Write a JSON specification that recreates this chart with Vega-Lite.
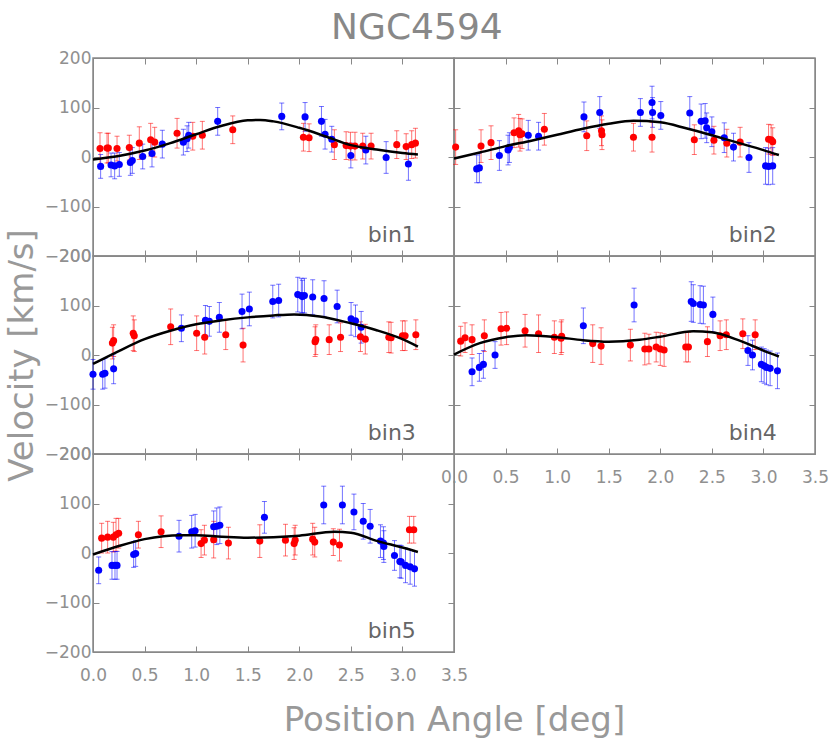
{
"$schema":"https://vega.github.io/schema/vega-lite/v6.json",
"background":"white",
"padding":{"left":4,"top":10,"right":2,"bottom":5},
"title":{"text":"NGC4594","fontSize":36,"color":"#888","font":"DejaVu Sans","fontWeight":"normal","anchor":"middle","offset":1},
"config":{"view":{"stroke":"#888","strokeWidth":1.5},
 "axis":{"domainColor":"#888","tickColor":"#888","labelColor":"#909090","labelFont":"DejaVu Sans","labelFontSize":17,"grid":false,"tickSize":-6,"labelFlush":false,"labelOverlap":false,"titleColor":"#999","titleFont":"DejaVu Sans","titleFontWeight":"normal","titleFontSize":34},
 "axisBottom":{"labelPadding":21},
 "axisLeft":{"labelPadding":8}},
"datasets":{
"pts":[
{"bin":"bin1","side":"red","x":0.068,"v":17,"e":32},{"bin":"bin1","side":"red","x":0.136,"v":18,"e":30},{"bin":"bin1","side":"red","x":0.149,"v":18,"e":30},{"bin":"bin1","side":"red","x":0.233,"v":17,"e":25},{"bin":"bin1","side":"red","x":0.352,"v":19,"e":25},{"bin":"bin1","side":"red","x":0.449,"v":28,"e":33},{"bin":"bin1","side":"red","x":0.559,"v":35,"e":33},{"bin":"bin1","side":"red","x":0.598,"v":30,"e":30},{"bin":"bin1","side":"red","x":0.815,"v":48,"e":30},{"bin":"bin1","side":"red","x":0.967,"v":42,"e":28},{"bin":"bin1","side":"red","x":1.06,"v":44,"e":28},{"bin":"bin1","side":"red","x":1.355,"v":55,"e":28},{"bin":"bin1","side":"red","x":2.04,"v":40,"e":28},{"bin":"bin1","side":"red","x":2.095,"v":39,"e":28},{"bin":"bin1","side":"red","x":2.34,"v":25,"e":30},{"bin":"bin1","side":"red","x":2.454,"v":23,"e":28},{"bin":"bin1","side":"red","x":2.496,"v":22,"e":28},{"bin":"bin1","side":"red","x":2.54,"v":22,"e":28},{"bin":"bin1","side":"red","x":2.615,"v":22,"e":26},{"bin":"bin1","side":"red","x":2.696,"v":22,"e":26},{"bin":"bin1","side":"red","x":2.945,"v":25,"e":28},{"bin":"bin1","side":"red","x":3.036,"v":21,"e":26},{"bin":"bin1","side":"red","x":3.09,"v":25,"e":28},{"bin":"bin1","side":"red","x":3.126,"v":28,"e":30},
{"bin":"bin1","side":"blue","x":0.074,"v":-19,"e":24},{"bin":"bin1","side":"blue","x":0.175,"v":-16,"e":24},{"bin":"bin1","side":"blue","x":0.21,"v":-18,"e":26},{"bin":"bin1","side":"blue","x":0.255,"v":-15,"e":24},{"bin":"bin1","side":"blue","x":0.362,"v":-11,"e":26},{"bin":"bin1","side":"blue","x":0.381,"v":-7,"e":26},{"bin":"bin1","side":"blue","x":0.482,"v":1,"e":25},{"bin":"bin1","side":"blue","x":0.572,"v":7,"e":27},{"bin":"bin1","side":"blue","x":0.672,"v":26,"e":28},{"bin":"bin1","side":"blue","x":0.876,"v":30,"e":26},{"bin":"bin1","side":"blue","x":0.912,"v":37,"e":26},{"bin":"bin1","side":"blue","x":0.928,"v":44,"e":26},{"bin":"bin1","side":"blue","x":1.209,"v":72,"e":28},{"bin":"bin1","side":"blue","x":1.83,"v":82,"e":27},{"bin":"bin1","side":"blue","x":2.056,"v":81,"e":29},{"bin":"bin1","side":"blue","x":2.215,"v":72,"e":30},{"bin":"bin1","side":"blue","x":2.25,"v":46,"e":30},{"bin":"bin1","side":"blue","x":2.315,"v":36,"e":26},{"bin":"bin1","side":"blue","x":2.5,"v":3,"e":25},{"bin":"bin1","side":"blue","x":2.645,"v":14,"e":28},{"bin":"bin1","side":"blue","x":2.842,"v":-1,"e":32},{"bin":"bin1","side":"blue","x":3.058,"v":-14,"e":33},
{"bin":"bin2","side":"red","x":0.016,"v":20,"e":35},{"bin":"bin2","side":"red","x":0.262,"v":22,"e":33},{"bin":"bin2","side":"red","x":0.359,"v":29,"e":34},{"bin":"bin2","side":"red","x":0.582,"v":49,"e":30},{"bin":"bin2","side":"red","x":0.627,"v":53,"e":33},{"bin":"bin2","side":"red","x":0.64,"v":45,"e":33},{"bin":"bin2","side":"red","x":0.66,"v":47,"e":30},{"bin":"bin2","side":"red","x":0.876,"v":56,"e":32},{"bin":"bin2","side":"red","x":1.287,"v":43,"e":30},{"bin":"bin2","side":"red","x":1.43,"v":53,"e":30},{"bin":"bin2","side":"red","x":1.435,"v":45,"e":30},{"bin":"bin2","side":"red","x":1.74,"v":40,"e":28},{"bin":"bin2","side":"red","x":1.92,"v":40,"e":30},{"bin":"bin2","side":"red","x":2.33,"v":35,"e":30},{"bin":"bin2","side":"red","x":2.52,"v":34,"e":28},{"bin":"bin2","side":"red","x":2.645,"v":28,"e":28},{"bin":"bin2","side":"red","x":2.774,"v":30,"e":30},{"bin":"bin2","side":"red","x":3.05,"v":36,"e":30},{"bin":"bin2","side":"red","x":3.075,"v":35,"e":30},{"bin":"bin2","side":"red","x":3.09,"v":31,"e":28},
{"bin":"bin2","side":"blue","x":0.22,"v":-24,"e":28},{"bin":"bin2","side":"blue","x":0.246,"v":-22,"e":30},{"bin":"bin2","side":"blue","x":0.44,"v":3,"e":30},{"bin":"bin2","side":"blue","x":0.524,"v":14,"e":30},{"bin":"bin2","side":"blue","x":0.537,"v":19,"e":30},{"bin":"bin2","side":"blue","x":0.72,"v":44,"e":30},{"bin":"bin2","side":"blue","x":0.82,"v":42,"e":28},{"bin":"bin2","side":"blue","x":1.26,"v":81,"e":30},{"bin":"bin2","side":"blue","x":1.413,"v":90,"e":32},{"bin":"bin2","side":"blue","x":1.807,"v":90,"e":28},{"bin":"bin2","side":"blue","x":1.92,"v":110,"e":33},{"bin":"bin2","side":"blue","x":1.925,"v":90,"e":30},{"bin":"bin2","side":"blue","x":2.005,"v":84,"e":28},{"bin":"bin2","side":"blue","x":2.286,"v":89,"e":33},{"bin":"bin2","side":"blue","x":2.396,"v":72,"e":35},{"bin":"bin2","side":"blue","x":2.435,"v":73,"e":35},{"bin":"bin2","side":"blue","x":2.45,"v":59,"e":30},{"bin":"bin2","side":"blue","x":2.5,"v":51,"e":30},{"bin":"bin2","side":"blue","x":2.62,"v":39,"e":30},{"bin":"bin2","side":"blue","x":2.71,"v":20,"e":28},{"bin":"bin2","side":"blue","x":2.86,"v":-1,"e":30},{"bin":"bin2","side":"blue","x":3.02,"v":-18,"e":37},{"bin":"bin2","side":"blue","x":3.05,"v":-19,"e":37},{"bin":"bin2","side":"blue","x":3.09,"v":-18,"e":37},
{"bin":"bin3","side":"red","x":0.188,"v":24,"e":32},{"bin":"bin3","side":"red","x":0.2,"v":29,"e":32},{"bin":"bin3","side":"red","x":0.39,"v":44,"e":35},{"bin":"bin3","side":"red","x":0.4,"v":39,"e":32},{"bin":"bin3","side":"red","x":0.753,"v":57,"e":36},{"bin":"bin3","side":"red","x":1.005,"v":44,"e":35},{"bin":"bin3","side":"red","x":1.083,"v":36,"e":34},{"bin":"bin3","side":"red","x":1.287,"v":41,"e":30},{"bin":"bin3","side":"red","x":1.455,"v":20,"e":34},{"bin":"bin3","side":"red","x":2.153,"v":27,"e":30},{"bin":"bin3","side":"red","x":2.16,"v":31,"e":30},{"bin":"bin3","side":"red","x":2.29,"v":31,"e":30},{"bin":"bin3","side":"red","x":2.4,"v":36,"e":29},{"bin":"bin3","side":"red","x":2.593,"v":37,"e":30},{"bin":"bin3","side":"red","x":2.64,"v":32,"e":30},{"bin":"bin3","side":"red","x":2.868,"v":36,"e":31},{"bin":"bin3","side":"red","x":2.89,"v":35,"e":31},{"bin":"bin3","side":"red","x":3.0,"v":39,"e":30},{"bin":"bin3","side":"red","x":3.026,"v":39,"e":30},{"bin":"bin3","side":"red","x":3.13,"v":41,"e":30},
{"bin":"bin3","side":"blue","x":0.0,"v":-39,"e":30},{"bin":"bin3","side":"blue","x":0.094,"v":-39,"e":30},{"bin":"bin3","side":"blue","x":0.116,"v":-37,"e":30},{"bin":"bin3","side":"blue","x":0.2,"v":-28,"e":30},{"bin":"bin3","side":"blue","x":0.857,"v":54,"e":27},{"bin":"bin3","side":"blue","x":1.09,"v":70,"e":30},{"bin":"bin3","side":"blue","x":1.128,"v":68,"e":30},{"bin":"bin3","side":"blue","x":1.225,"v":76,"e":30},{"bin":"bin3","side":"blue","x":1.445,"v":88,"e":35},{"bin":"bin3","side":"blue","x":1.516,"v":93,"e":34},{"bin":"bin3","side":"blue","x":1.743,"v":108,"e":33},{"bin":"bin3","side":"blue","x":1.8,"v":110,"e":33},{"bin":"bin3","side":"blue","x":1.985,"v":122,"e":35},{"bin":"bin3","side":"blue","x":2.02,"v":120,"e":35},{"bin":"bin3","side":"blue","x":2.03,"v":118,"e":33},{"bin":"bin3","side":"blue","x":2.05,"v":120,"e":35},{"bin":"bin3","side":"blue","x":2.13,"v":117,"e":35},{"bin":"bin3","side":"blue","x":2.24,"v":114,"e":36},{"bin":"bin3","side":"blue","x":2.367,"v":98,"e":33},{"bin":"bin3","side":"blue","x":2.502,"v":73,"e":33},{"bin":"bin3","side":"blue","x":2.545,"v":69,"e":32},{"bin":"bin3","side":"blue","x":2.6,"v":56,"e":32},
{"bin":"bin4","side":"red","x":0.065,"v":28,"e":30},{"bin":"bin4","side":"red","x":0.107,"v":35,"e":30},{"bin":"bin4","side":"red","x":0.175,"v":31,"e":30},{"bin":"bin4","side":"red","x":0.294,"v":39,"e":32},{"bin":"bin4","side":"red","x":0.456,"v":53,"e":33},{"bin":"bin4","side":"red","x":0.51,"v":54,"e":33},{"bin":"bin4","side":"red","x":0.689,"v":49,"e":33},{"bin":"bin4","side":"red","x":0.82,"v":43,"e":38},{"bin":"bin4","side":"red","x":0.973,"v":36,"e":33},{"bin":"bin4","side":"red","x":1.038,"v":34,"e":33},{"bin":"bin4","side":"red","x":1.044,"v":38,"e":33},{"bin":"bin4","side":"red","x":1.345,"v":23,"e":38},{"bin":"bin4","side":"red","x":1.426,"v":18,"e":37},{"bin":"bin4","side":"red","x":1.71,"v":20,"e":32},{"bin":"bin4","side":"red","x":1.85,"v":12,"e":32},{"bin":"bin4","side":"red","x":1.89,"v":12,"e":30},{"bin":"bin4","side":"red","x":1.96,"v":16,"e":30},{"bin":"bin4","side":"red","x":2.0,"v":12,"e":33},{"bin":"bin4","side":"red","x":2.037,"v":10,"e":33},{"bin":"bin4","side":"red","x":2.247,"v":16,"e":30},{"bin":"bin4","side":"red","x":2.273,"v":16,"e":30},{"bin":"bin4","side":"red","x":2.457,"v":27,"e":30},{"bin":"bin4","side":"red","x":2.58,"v":39,"e":30},{"bin":"bin4","side":"red","x":2.64,"v":41,"e":30},{"bin":"bin4","side":"red","x":2.8,"v":43,"e":30},{"bin":"bin4","side":"red","x":2.92,"v":41,"e":30},
{"bin":"bin4","side":"blue","x":0.175,"v":-34,"e":28},{"bin":"bin4","side":"blue","x":0.246,"v":-25,"e":28},{"bin":"bin4","side":"blue","x":0.285,"v":-19,"e":28},{"bin":"bin4","side":"blue","x":0.398,"v":0,"e":27},{"bin":"bin4","side":"blue","x":1.254,"v":59,"e":36},{"bin":"bin4","side":"blue","x":1.746,"v":101,"e":34},{"bin":"bin4","side":"blue","x":2.3,"v":108,"e":40},{"bin":"bin4","side":"blue","x":2.32,"v":104,"e":38},{"bin":"bin4","side":"blue","x":2.386,"v":102,"e":38},{"bin":"bin4","side":"blue","x":2.418,"v":101,"e":38},{"bin":"bin4","side":"blue","x":2.51,"v":82,"e":35},{"bin":"bin4","side":"blue","x":2.85,"v":9,"e":30},{"bin":"bin4","side":"blue","x":2.894,"v":0,"e":30},{"bin":"bin4","side":"blue","x":2.98,"v":-19,"e":35},{"bin":"bin4","side":"blue","x":3.007,"v":-22,"e":35},{"bin":"bin4","side":"blue","x":3.03,"v":-25,"e":35},{"bin":"bin4","side":"blue","x":3.065,"v":-27,"e":35},{"bin":"bin4","side":"blue","x":3.136,"v":-32,"e":36},
{"bin":"bin5","side":"red","x":0.084,"v":30,"e":30},{"bin":"bin5","side":"red","x":0.142,"v":32,"e":32},{"bin":"bin5","side":"red","x":0.197,"v":32,"e":30},{"bin":"bin5","side":"red","x":0.223,"v":37,"e":33},{"bin":"bin5","side":"red","x":0.249,"v":40,"e":30},{"bin":"bin5","side":"red","x":0.44,"v":37,"e":27},{"bin":"bin5","side":"red","x":0.66,"v":43,"e":32},{"bin":"bin5","side":"red","x":1.048,"v":19,"e":28},{"bin":"bin5","side":"red","x":1.08,"v":26,"e":30},{"bin":"bin5","side":"red","x":1.17,"v":27,"e":37},{"bin":"bin5","side":"red","x":1.313,"v":20,"e":32},{"bin":"bin5","side":"red","x":1.617,"v":24,"e":33},{"bin":"bin5","side":"red","x":1.866,"v":26,"e":32},{"bin":"bin5","side":"red","x":1.95,"v":19,"e":32},{"bin":"bin5","side":"red","x":1.96,"v":26,"e":30},{"bin":"bin5","side":"red","x":2.13,"v":28,"e":32},{"bin":"bin5","side":"red","x":2.15,"v":22,"e":30},{"bin":"bin5","side":"red","x":2.33,"v":22,"e":27},{"bin":"bin5","side":"red","x":2.39,"v":16,"e":32},{"bin":"bin5","side":"red","x":3.068,"v":47,"e":27},{"bin":"bin5","side":"red","x":3.11,"v":47,"e":27},
{"bin":"bin5","side":"blue","x":0.055,"v":-35,"e":27},{"bin":"bin5","side":"blue","x":0.184,"v":-25,"e":28},{"bin":"bin5","side":"blue","x":0.213,"v":-25,"e":28},{"bin":"bin5","side":"blue","x":0.233,"v":-25,"e":28},{"bin":"bin5","side":"blue","x":0.394,"v":-3,"e":26},{"bin":"bin5","side":"blue","x":0.414,"v":-1,"e":26},{"bin":"bin5","side":"blue","x":0.834,"v":34,"e":32},{"bin":"bin5","side":"blue","x":0.957,"v":43,"e":33},{"bin":"bin5","side":"blue","x":0.99,"v":45,"e":33},{"bin":"bin5","side":"blue","x":1.17,"v":53,"e":32},{"bin":"bin5","side":"blue","x":1.2,"v":54,"e":37},{"bin":"bin5","side":"blue","x":1.23,"v":56,"e":37},{"bin":"bin5","side":"blue","x":1.662,"v":72,"e":32},{"bin":"bin5","side":"blue","x":2.237,"v":97,"e":38},{"bin":"bin5","side":"blue","x":2.418,"v":97,"e":38},{"bin":"bin5","side":"blue","x":2.53,"v":83,"e":36},{"bin":"bin5","side":"blue","x":2.62,"v":64,"e":36},{"bin":"bin5","side":"blue","x":2.687,"v":54,"e":34},{"bin":"bin5","side":"blue","x":2.787,"v":24,"e":33},{"bin":"bin5","side":"blue","x":2.816,"v":20,"e":33},{"bin":"bin5","side":"blue","x":2.82,"v":13,"e":32},{"bin":"bin5","side":"blue","x":2.923,"v":-5,"e":30},{"bin":"bin5","side":"blue","x":2.975,"v":-17,"e":33},{"bin":"bin5","side":"blue","x":2.988,"v":-18,"e":33},{"bin":"bin5","side":"blue","x":3.03,"v":-25,"e":35},{"bin":"bin5","side":"blue","x":3.075,"v":-28,"e":35},{"bin":"bin5","side":"blue","x":3.117,"v":-32,"e":35}
],
"curve":[
{"bin":"bin1","x":0,"v":-5},{"bin":"bin1","x":0.25,"v":2},{"bin":"bin1","x":0.5,"v":13},{"bin":"bin1","x":0.75,"v":28},{"bin":"bin1","x":1.0,"v":46},{"bin":"bin1","x":1.25,"v":63},{"bin":"bin1","x":1.5,"v":74},{"bin":"bin1","x":1.62,"v":75},{"bin":"bin1","x":1.75,"v":72},{"bin":"bin1","x":2.0,"v":59},{"bin":"bin1","x":2.25,"v":42},{"bin":"bin1","x":2.5,"v":24},{"bin":"bin1","x":2.75,"v":15},{"bin":"bin1","x":3.0,"v":8},{"bin":"bin1","x":3.15,"v":5},
{"bin":"bin2","x":0,"v":-3},{"bin":"bin2","x":0.25,"v":9},{"bin":"bin2","x":0.5,"v":22},{"bin":"bin2","x":0.75,"v":33},{"bin":"bin2","x":1.0,"v":45},{"bin":"bin2","x":1.25,"v":57},{"bin":"bin2","x":1.5,"v":67},{"bin":"bin2","x":1.74,"v":73},{"bin":"bin2","x":2.0,"v":70},{"bin":"bin2","x":2.25,"v":58},{"bin":"bin2","x":2.5,"v":44},{"bin":"bin2","x":2.75,"v":29},{"bin":"bin2","x":3.0,"v":14},{"bin":"bin2","x":3.15,"v":4},
{"bin":"bin3","x":0,"v":-18},{"bin":"bin3","x":0.25,"v":8},{"bin":"bin3","x":0.5,"v":32},{"bin":"bin3","x":0.75,"v":49},{"bin":"bin3","x":1.0,"v":62},{"bin":"bin3","x":1.25,"v":70},{"bin":"bin3","x":1.5,"v":76},{"bin":"bin3","x":1.75,"v":80},{"bin":"bin3","x":1.95,"v":82},{"bin":"bin3","x":2.2,"v":78},{"bin":"bin3","x":2.5,"v":64},{"bin":"bin3","x":2.75,"v":50},{"bin":"bin3","x":3.0,"v":32},{"bin":"bin3","x":3.15,"v":17},
{"bin":"bin4","x":0,"v":1},{"bin":"bin4","x":0.25,"v":24},{"bin":"bin4","x":0.5,"v":36},{"bin":"bin4","x":0.7,"v":40},{"bin":"bin4","x":1.0,"v":36},{"bin":"bin4","x":1.25,"v":30},{"bin":"bin4","x":1.5,"v":27},{"bin":"bin4","x":1.8,"v":31},{"bin":"bin4","x":2.0,"v":37},{"bin":"bin4","x":2.32,"v":48},{"bin":"bin4","x":2.5,"v":46},{"bin":"bin4","x":2.77,"v":29},{"bin":"bin4","x":3.0,"v":9},{"bin":"bin4","x":3.15,"v":-3},
{"bin":"bin5","x":0,"v":-3},{"bin":"bin5","x":0.25,"v":14},{"bin":"bin5","x":0.5,"v":28},{"bin":"bin5","x":0.85,"v":36},{"bin":"bin5","x":1.0,"v":36},{"bin":"bin5","x":1.25,"v":33},{"bin":"bin5","x":1.5,"v":31},{"bin":"bin5","x":1.75,"v":32},{"bin":"bin5","x":2.0,"v":35},{"bin":"bin5","x":2.34,"v":43},{"bin":"bin5","x":2.5,"v":41},{"bin":"bin5","x":2.76,"v":24},{"bin":"bin5","x":3.0,"v":11},{"bin":"bin5","x":3.15,"v":2}
]},
"columns":2,
"spacing":0,
"bounds":"flush",
"concat":[
{"width":361,"height":198,"resolve":{"axis":{"x":"independent","y":"independent"}},"layer":[
{"data":{"name":"pts"},"transform":[{"filter":"datum.bin=='bin1'"}],"mark":{"type":"errorbar","ticks":{"size":5},"thickness":1,"opacity":0.55},"encoding":{"x":{"field":"x","type":"quantitative","scale":{"domain":[0,3.5],"nice":false},"axis":null},"y":{"field":"v","type":"quantitative","scale":{"domain":[-200,200],"nice":false},"axis":null},"yError":{"field":"e"},"color":{"field":"side","type":"nominal","scale":{"domain":["red","blue"],"range":["#ff0000","#0000ff"]},"legend":null}}},
{"data":{"name":"pts"},"transform":[{"filter":"datum.bin=='bin1'"}],"mark":{"type":"circle","size":50,"opacity":1},"encoding":{"x":{"field":"x","type":"quantitative","axis":null},"y":{"field":"v","type":"quantitative","axis":null},"color":{"field":"side","type":"nominal","scale":{"domain":["red","blue"],"range":["#ff0000","#0000ff"]},"legend":null}}},
{"data":{"name":"curve"},"transform":[{"filter":"datum.bin=='bin1'"}],"mark":{"type":"line","color":"black","strokeWidth":2.5,"interpolate":"monotone"},"encoding":{"x":{"field":"x","type":"quantitative","axis":{"orient":"bottom","values":[0,0.5,1,1.5,2,2.5,3,3.5],"format":".1f","labels":false,"title":null}},"y":{"field":"v","type":"quantitative","axis":{"orient":"left","values":[-200,-100,0,100,200],"title":null}}}},
{"data":{"name":"curve"},"transform":[{"filter":"datum.bin=='bin1'"}],"mark":{"type":"line","opacity":0},"encoding":{"x":{"field":"x","type":"quantitative","axis":{"orient":"top","values":[0,0.5,1,1.5,2,2.5,3,3.5],"labels":false,"title":null}},"y":{"field":"v","type":"quantitative","axis":{"orient":"right","values":[-200,-100,0,100,200],"labels":false,"title":null}}}},
{"data":{"values":[{}]},"mark":{"type":"text","align":"right","baseline":"alphabetic","fontSize":22,"color":"#666","font":"DejaVu Sans"},"encoding":{"x":{"datum":3.13,"type":"quantitative","axis":null},"y":{"datum":-172,"type":"quantitative","axis":null},"text":{"value":"bin1"}}}
]},
{"width":361,"height":198,"resolve":{"axis":{"x":"independent","y":"independent"}},"layer":[
{"data":{"name":"pts"},"transform":[{"filter":"datum.bin=='bin2'"}],"mark":{"type":"errorbar","ticks":{"size":5},"thickness":1,"opacity":0.55},"encoding":{"x":{"field":"x","type":"quantitative","scale":{"domain":[0,3.5],"nice":false},"axis":null},"y":{"field":"v","type":"quantitative","scale":{"domain":[-200,200],"nice":false},"axis":null},"yError":{"field":"e"},"color":{"field":"side","type":"nominal","scale":{"domain":["red","blue"],"range":["#ff0000","#0000ff"]},"legend":null}}},
{"data":{"name":"pts"},"transform":[{"filter":"datum.bin=='bin2'"}],"mark":{"type":"circle","size":50,"opacity":1},"encoding":{"x":{"field":"x","type":"quantitative","axis":null},"y":{"field":"v","type":"quantitative","axis":null},"color":{"field":"side","type":"nominal","scale":{"domain":["red","blue"],"range":["#ff0000","#0000ff"]},"legend":null}}},
{"data":{"name":"curve"},"transform":[{"filter":"datum.bin=='bin2'"}],"mark":{"type":"line","color":"black","strokeWidth":2.5,"interpolate":"monotone"},"encoding":{"x":{"field":"x","type":"quantitative","axis":{"orient":"bottom","values":[0,0.5,1,1.5,2,2.5,3,3.5],"format":".1f","labels":false,"title":null}},"y":{"field":"v","type":"quantitative","axis":{"orient":"left","values":[-200,-100,0,100,200],"labels":false,"title":null}}}},
{"data":{"name":"curve"},"transform":[{"filter":"datum.bin=='bin2'"}],"mark":{"type":"line","opacity":0},"encoding":{"x":{"field":"x","type":"quantitative","axis":{"orient":"top","values":[0,0.5,1,1.5,2,2.5,3,3.5],"labels":false,"title":null}},"y":{"field":"v","type":"quantitative","axis":{"orient":"right","values":[-200,-100,0,100,200],"labels":false,"title":null}}}},
{"data":{"values":[{}]},"mark":{"type":"text","align":"right","baseline":"alphabetic","fontSize":22,"color":"#666","font":"DejaVu Sans"},"encoding":{"x":{"datum":3.13,"type":"quantitative","axis":null},"y":{"datum":-172,"type":"quantitative","axis":null},"text":{"value":"bin2"}}}
]},
{"width":361,"height":198,"resolve":{"axis":{"x":"independent","y":"independent"}},"layer":[
{"data":{"name":"pts"},"transform":[{"filter":"datum.bin=='bin3'"}],"mark":{"type":"errorbar","ticks":{"size":5},"thickness":1,"opacity":0.55},"encoding":{"x":{"field":"x","type":"quantitative","scale":{"domain":[0,3.5],"nice":false},"axis":null},"y":{"field":"v","type":"quantitative","scale":{"domain":[-200,200],"nice":false},"axis":null},"yError":{"field":"e"},"color":{"field":"side","type":"nominal","scale":{"domain":["red","blue"],"range":["#ff0000","#0000ff"]},"legend":null}}},
{"data":{"name":"pts"},"transform":[{"filter":"datum.bin=='bin3'"}],"mark":{"type":"circle","size":50,"opacity":1},"encoding":{"x":{"field":"x","type":"quantitative","axis":null},"y":{"field":"v","type":"quantitative","axis":null},"color":{"field":"side","type":"nominal","scale":{"domain":["red","blue"],"range":["#ff0000","#0000ff"]},"legend":null}}},
{"data":{"name":"curve"},"transform":[{"filter":"datum.bin=='bin3'"}],"mark":{"type":"line","color":"black","strokeWidth":2.5,"interpolate":"monotone"},"encoding":{"x":{"field":"x","type":"quantitative","axis":{"orient":"bottom","values":[0,0.5,1,1.5,2,2.5,3,3.5],"format":".1f","labels":false,"title":null}},"y":{"field":"v","type":"quantitative","axis":{"orient":"left","values":[-200,-100,0,100,200],"title":"Velocity [km/s]","titlePadding":5}}}},
{"data":{"name":"curve"},"transform":[{"filter":"datum.bin=='bin3'"}],"mark":{"type":"line","opacity":0},"encoding":{"x":{"field":"x","type":"quantitative","axis":{"orient":"top","values":[0,0.5,1,1.5,2,2.5,3,3.5],"labels":false,"title":null}},"y":{"field":"v","type":"quantitative","axis":{"orient":"right","values":[-200,-100,0,100,200],"labels":false,"title":null}}}},
{"data":{"values":[{}]},"mark":{"type":"text","align":"right","baseline":"alphabetic","fontSize":22,"color":"#666","font":"DejaVu Sans"},"encoding":{"x":{"datum":3.13,"type":"quantitative","axis":null},"y":{"datum":-172,"type":"quantitative","axis":null},"text":{"value":"bin3"}}}
]},
{"width":361,"height":198,"resolve":{"axis":{"x":"independent","y":"independent"}},"layer":[
{"data":{"name":"pts"},"transform":[{"filter":"datum.bin=='bin4'"}],"mark":{"type":"errorbar","ticks":{"size":5},"thickness":1,"opacity":0.55},"encoding":{"x":{"field":"x","type":"quantitative","scale":{"domain":[0,3.5],"nice":false},"axis":null},"y":{"field":"v","type":"quantitative","scale":{"domain":[-200,200],"nice":false},"axis":null},"yError":{"field":"e"},"color":{"field":"side","type":"nominal","scale":{"domain":["red","blue"],"range":["#ff0000","#0000ff"]},"legend":null}}},
{"data":{"name":"pts"},"transform":[{"filter":"datum.bin=='bin4'"}],"mark":{"type":"circle","size":50,"opacity":1},"encoding":{"x":{"field":"x","type":"quantitative","axis":null},"y":{"field":"v","type":"quantitative","axis":null},"color":{"field":"side","type":"nominal","scale":{"domain":["red","blue"],"range":["#ff0000","#0000ff"]},"legend":null}}},
{"data":{"name":"curve"},"transform":[{"filter":"datum.bin=='bin4'"}],"mark":{"type":"line","color":"black","strokeWidth":2.5,"interpolate":"monotone"},"encoding":{"x":{"field":"x","type":"quantitative","axis":{"orient":"bottom","values":[0,0.5,1,1.5,2,2.5,3,3.5],"format":".1f","title":null}},"y":{"field":"v","type":"quantitative","axis":{"orient":"left","values":[-200,-100,0,100,200],"labels":false,"title":null}}}},
{"data":{"name":"curve"},"transform":[{"filter":"datum.bin=='bin4'"}],"mark":{"type":"line","opacity":0},"encoding":{"x":{"field":"x","type":"quantitative","axis":{"orient":"top","values":[0,0.5,1,1.5,2,2.5,3,3.5],"labels":false,"title":null}},"y":{"field":"v","type":"quantitative","axis":{"orient":"right","values":[-200,-100,0,100,200],"labels":false,"title":null}}}},
{"data":{"values":[{}]},"mark":{"type":"text","align":"right","baseline":"alphabetic","fontSize":22,"color":"#666","font":"DejaVu Sans"},"encoding":{"x":{"datum":3.13,"type":"quantitative","axis":null},"y":{"datum":-172,"type":"quantitative","axis":null},"text":{"value":"bin4"}}}
]},
{"width":361,"height":198,"resolve":{"axis":{"x":"independent","y":"independent"}},"layer":[
{"data":{"name":"pts"},"transform":[{"filter":"datum.bin=='bin5'"}],"mark":{"type":"errorbar","ticks":{"size":5},"thickness":1,"opacity":0.55},"encoding":{"x":{"field":"x","type":"quantitative","scale":{"domain":[0,3.5],"nice":false},"axis":null},"y":{"field":"v","type":"quantitative","scale":{"domain":[-200,200],"nice":false},"axis":null},"yError":{"field":"e"},"color":{"field":"side","type":"nominal","scale":{"domain":["red","blue"],"range":["#ff0000","#0000ff"]},"legend":null}}},
{"data":{"name":"pts"},"transform":[{"filter":"datum.bin=='bin5'"}],"mark":{"type":"circle","size":50,"opacity":1},"encoding":{"x":{"field":"x","type":"quantitative","axis":null},"y":{"field":"v","type":"quantitative","axis":null},"color":{"field":"side","type":"nominal","scale":{"domain":["red","blue"],"range":["#ff0000","#0000ff"]},"legend":null}}},
{"data":{"name":"curve"},"transform":[{"filter":"datum.bin=='bin5'"}],"mark":{"type":"line","color":"black","strokeWidth":2.5,"interpolate":"monotone"},"encoding":{"x":{"field":"x","type":"quantitative","axis":{"orient":"bottom","values":[0,0.5,1,1.5,2,2.5,3,3.5],"format":".1f","title":"Position Angle [deg]","titleX":361,"titleAlign":"center","titlePadding":20}},"y":{"field":"v","type":"quantitative","axis":{"orient":"left","values":[-200,-100,0,100,200],"title":null}}}},
{"data":{"name":"curve"},"transform":[{"filter":"datum.bin=='bin5'"}],"mark":{"type":"line","opacity":0},"encoding":{"x":{"field":"x","type":"quantitative","axis":{"orient":"top","values":[0,0.5,1,1.5,2,2.5,3,3.5],"labels":false,"title":null}},"y":{"field":"v","type":"quantitative","axis":{"orient":"right","values":[-200,-100,0,100,200],"labels":false,"title":null}}}},
{"data":{"values":[{}]},"mark":{"type":"text","align":"right","baseline":"alphabetic","fontSize":22,"color":"#666","font":"DejaVu Sans"},"encoding":{"x":{"datum":3.13,"type":"quantitative","axis":null},"y":{"datum":-172,"type":"quantitative","axis":null},"text":{"value":"bin5"}}}
]}
]
}
